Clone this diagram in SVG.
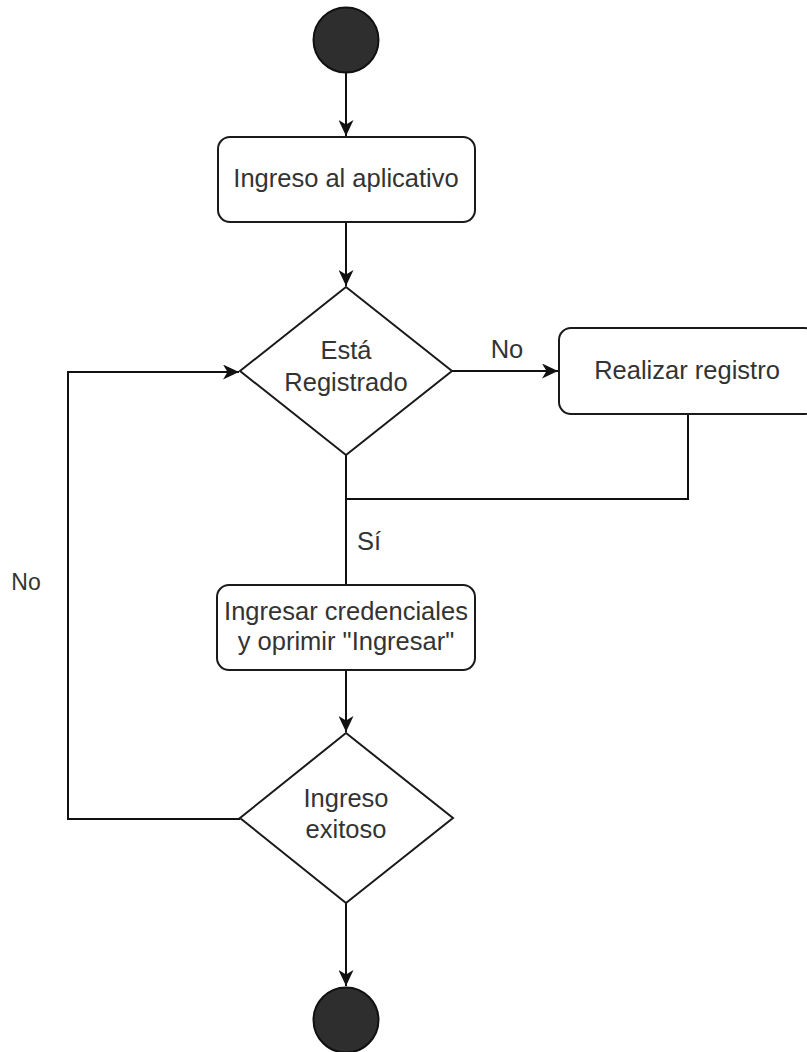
<svg xmlns="http://www.w3.org/2000/svg" width="807" height="1052" viewBox="0 0 807 1052">
  <defs>
    <marker id="arrow" markerUnits="userSpaceOnUse" markerWidth="17" markerHeight="15" refX="16" refY="7.5" orient="auto">
      <path d="M0,0 L16,7.5 L0,15 L4.5,7.5 Z" fill="#111"/>
    </marker>
    <style>
      .shape { fill: #fff; stroke: #1a1a1a; stroke-width: 2; }
      .term { fill: #2e2e2e; stroke: #111; stroke-width: 2; }
      .edge { fill: none; stroke: #111; stroke-width: 2; }
      .lbl { font-family: "Liberation Sans", Arial, sans-serif; font-size: 25.5px; fill: #333; text-anchor: middle; }
    </style>
  </defs>
  <rect width="807" height="1052" fill="#fff"/>

  <g id="connectors">
    <path class="edge" d="M346,73 V136" marker-end="url(#arrow)"/>
    <path class="edge" d="M346,222 V286" marker-end="url(#arrow)"/>
    <path class="edge" d="M452,371 H558" marker-end="url(#arrow)"/>
    <path class="edge" d="M688,414 V499 H346"/>
    <path class="edge" d="M346,455 V585"/>
    <path class="edge" d="M346,670 V732" marker-end="url(#arrow)"/>
    <path class="edge" d="M346,903 V986" marker-end="url(#arrow)"/>
    <path class="edge" d="M240,819 H68 V372 H239" marker-end="url(#arrow)"/>
    <text class="lbl" x="507" y="358">No</text>
    <text class="lbl" x="357" y="550" style="text-anchor:start">Sí</text>
    <text class="lbl" x="26" y="590" style="font-size:23px">No</text>
  </g>

  <g id="start">
    <circle class="term" cx="346" cy="40" r="32.5"/>
  </g>

  <g id="ingreso-aplicativo">
    <rect class="shape" x="218" y="137" width="257" height="85" rx="12"/>
    <text class="lbl" x="346" y="187">Ingreso al aplicativo</text>
  </g>

  <g id="esta-registrado">
    <polygon class="shape" points="346,287 452,371 346,455 240,371"/>
    <text class="lbl" x="346" y="359">Está</text>
    <text class="lbl" x="346" y="391">Registrado</text>
  </g>

  <g id="realizar-registro">
    <rect class="shape" x="559" y="328" width="258" height="86" rx="12"/>
    <text class="lbl" x="687" y="379">Realizar registro</text>
  </g>

  <g id="ingresar-credenciales">
    <rect class="shape" x="217" y="585" width="258" height="85" rx="12"/>
    <text class="lbl" x="346" y="620">Ingresar credenciales</text>
    <text class="lbl" x="346" y="650">y oprimir "Ingresar"</text>
  </g>

  <g id="ingreso-exitoso">
    <polygon class="shape" points="346,733 453,818 346,903 240,818"/>
    <text class="lbl" x="346" y="807">Ingreso</text>
    <text class="lbl" x="346" y="838">exitoso</text>
  </g>

  <g id="end">
    <circle class="term" cx="346" cy="1020" r="32.5"/>
  </g>
</svg>
